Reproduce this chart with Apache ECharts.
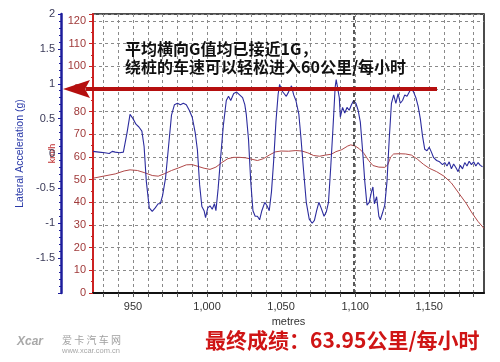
<!DOCTYPE html>
<html>
<head>
<meta charset="utf-8">
<script src="https://cdn.jsdelivr.net/npm/echarts@6/dist/echarts.min.js"></script>
<style>html,body{margin:0;padding:0;background:#fff;}#c{width:500px;height:362px;}</style>
</head>
<body>
<div id="c"></div>
<script>
// Lateral acceleration (g) vs distance (metres)
const accDist = [923,927,931,934,936,938,941,943.5,946,948,950,952,954,956,957.5,959,961,963,965,967,968.5,970,972,974,976,978,980,982,984,986,988,990,992,993.5,995,996.5,998,999,1000.5,1002,1003.5,1005,1006,1007.5,1009,1011,1013,1014.5,1016,1018,1020,1022,1024,1025.5,1026.5,1028,1029.5,1031,1032.5,1034,1035.5,1037,1039,1040.5,1042,1043.5,1045,1046.5,1048,1049,1050.5,1052,1053.5,1055,1057,1058.5,1060,1062,1063.5,1065,1067,1069,1071,1072.5,1074,1075.5,1077,1079,1080.5,1082,1083.5,1085,1086.5,1087.2,1088.5,1089.3,1090,1091.5,1093,1094.5,1096,1097.5,1099,1100.5,1102,1103.5,1105,1106.5,1108,1109.5,1111,1112,1113,1114.5,1116,1117,1118.5,1120,1121.5,1123,1124.5,1126,1127.5,1129,1130.5,1132,1133.5,1135,1137,1138,1139.5,1141,1142.5,1144,1145.5,1147,1148.5,1150,1151.5,1153,1155,1157,1159,1160.5,1162,1163.5,1165,1166.5,1168,1169.5,1171,1172.5,1174,1175.5,1177,1178.5,1180,1181.5,1183,1184.5,1186];
const accG = [0.03,0.02,0.01,0.00,0.03,0.02,0.01,0.02,0.30,0.56,0.50,0.42,0.38,0.32,0.10,-0.40,-0.78,-0.83,-0.78,-0.72,-0.72,-0.60,-0.35,0.10,0.55,0.70,0.72,0.70,0.72,0.70,0.62,0.52,0.30,0.05,-0.45,-0.76,-0.82,-0.92,-0.78,-0.75,-0.80,-0.72,-0.82,-0.50,-0.10,0.40,0.76,0.82,0.76,0.86,0.88,0.84,0.80,0.70,0.56,0.20,-0.40,-0.82,-0.90,-0.90,-0.95,-0.82,-0.70,-0.75,-0.82,-0.55,-0.10,0.45,0.85,0.99,0.90,0.86,0.82,0.88,0.97,0.84,0.76,0.56,0.20,-0.20,-0.70,-0.94,-1.00,-0.96,-0.82,-0.70,-0.78,-0.90,-0.84,-0.70,-0.20,0.35,0.95,1.06,1.06,0.80,0.52,0.66,0.58,0.66,0.62,0.70,0.76,0.72,0.62,0.45,0.05,-0.40,-0.74,-0.70,-0.55,-0.48,-0.72,-0.62,-0.90,-0.95,-0.85,-0.74,-0.40,0.20,0.72,0.84,0.72,0.86,0.72,0.76,0.84,0.82,0.90,0.94,0.88,0.80,0.68,0.50,0.25,0.06,0.04,0.09,0.02,-0.06,-0.10,-0.12,-0.16,-0.13,-0.18,-0.12,-0.22,-0.15,-0.20,-0.26,-0.17,-0.22,-0.13,-0.18,-0.11,-0.16,-0.12,-0.18,-0.13,-0.17,-0.19];

// Speed (km/h) vs distance (metres)
const speedDist = [923,930,938,944,948,953,958,963,967,971,976,981,986,990,994,998,1002,1006,1010,1014,1018,1022,1026,1030,1034,1038,1042,1046,1050,1055,1060,1064,1068,1072,1076,1080,1084,1087,1091,1095,1097,1100,1103,1106,1109,1112,1116,1120,1122,1124,1126,1130,1134,1138,1142,1146,1150,1155,1160,1165,1170,1175,1179,1183,1187];
const speedKmh = [50.6,51.5,52.5,53.8,54.3,54.0,53.0,51.8,51.5,52.5,54.0,55.2,56.5,56.6,55.8,55.0,54.5,55.5,57.5,59.2,59.8,59.8,59.6,59.0,58.4,59.2,60.8,62.2,62.6,62.5,62.8,62.6,61.8,60.6,60.3,60.8,61.2,62.3,63.2,64.8,65.3,64.8,63.5,61.5,58.5,56.2,55.5,55.4,56.5,60.0,61.3,61.4,61.3,60.8,59.0,56.8,55.0,53.5,51.5,48.5,44.0,39.5,35.2,31.5,28.5];

// Axis tick values
const xLabelValues = [950,1000,1050,1100,1150];
const xMinorTickValues = [930,940,950,960,970,980,990,1000,1010,1020,1030,1040,1050,1060,1070,1080,1090,1100,1110,1120,1130,1140,1150,1160,1170,1180];
const markerDist = 1099;

const accData = accDist.map((d, i) => [d, accG[i]]);
const speedData = speedDist.map((d, i) => [d, speedKmh[i]]);

const chart = echarts.init(document.getElementById('c'), null, {renderer: 'canvas'});
const latin = 'Liberation Sans, Arial, sans-serif';
const cjk = 'Noto Sans CJK SC, sans-serif';

chart.setOption({
  backgroundColor: '#fff',
  animation: false,
  grid: {left: 93, right: 16, top: 14, bottom: 69, show: true, borderColor: '#111', borderWidth: 1.5, backgroundColor: 'transparent'},
  xAxis: {
    type: 'value', min: 923, max: 1187,
    name: 'metres', nameLocation: 'middle', nameGap: 23,
    nameTextStyle: {color: '#333', fontSize: 11, fontFamily: latin},
    axisLine: {show: true, onZero: false, lineStyle: {color: '#111', width: 2}},
    axisTick: {show: true, customValues: xMinorTickValues, length: 4, lineStyle: {color: '#555'}},
    axisLabel: {customValues: xLabelValues, color: '#333', fontSize: 11, fontFamily: latin, margin: 8,
      formatter: v => v >= 1000 ? Math.floor(v/1000) + ',' + String(v % 1000).padStart(3, '0') : String(v)},
    splitLine: {show: true, customValues: xLabelValues, lineStyle: {color: '#8a8a8a', type: [3, 3], width: 1}}
  },
  yAxis: [
    {
      type: 'value', min: -2, max: 2, interval: 0.5, position: 'left', offset: 32,
      name: 'Lateral Acceleration (g)', nameLocation: 'middle', nameGap: 30,
      nameTextStyle: {color: '#2a3aa8', fontSize: 10.5, fontFamily: latin},
      axisLine: {show: true, lineStyle: {color: '#1c1c9c', width: 2.5}},
      axisTick: {show: true, length: 3, lineStyle: {color: '#1c1c9c'}},
      minorTick: {show: true, splitNumber: 5, length: 2, lineStyle: {color: '#1c1c9c'}},
      axisLabel: {color: '#3a3a58', fontSize: 11, fontFamily: latin, margin: 6, showMinLabel: false},
      splitLine: {show: false}
    },
    {
      type: 'value', min: 0, max: 123, interval: 10, position: 'left', offset: 0,
      name: 'km/h', nameLocation: 'middle', nameGap: 31,
      nameTextStyle: {color: '#c03030', fontSize: 9, fontFamily: latin},
      axisLine: {show: true, lineStyle: {color: '#cc2222', width: 2}},
      axisTick: {show: true, length: 4, lineStyle: {color: '#cc2222'}},
      minorTick: {show: true, splitNumber: 2, length: 2, lineStyle: {color: '#cc2222'}},
      axisLabel: {color: '#a03a3a', fontSize: 11, fontFamily: latin, margin: 7, showMaxLabel: false},
      splitLine: {show: true, lineStyle: {color: '#8a8a8a', type: [3, 3], width: 1}}
    }
  ],
  series: [
    {
      type: 'line', name: 'Lateral Acceleration', xAxisIndex: 0, yAxisIndex: 0,
      data: accData, showSymbol: false, symbol: 'none', z: 3,
      lineStyle: {color: '#2c2c9e', width: 1.1},
      markLine: {
        silent: true, symbol: 'none', label: {show: false},
        lineStyle: {color: '#222', type: [4, 3], width: 1.5},
        data: [{xAxis: markerDist}]
      }
    },
    {
      type: 'line', name: 'Speed', xAxisIndex: 0, yAxisIndex: 1,
      data: speedData, showSymbol: false, symbol: 'none', z: 2,
      lineStyle: {color: '#b04848', width: 1}
    }
  ],
  graphic: [
    {type: 'line', shape: {x1: 86, y1: 89, x2: 437, y2: 89}, style: {stroke: '#b50f0f', lineWidth: 4}, z: 10},
    {type: 'polygon', shape: {points: [[63, 89], [90, 80], [85, 89], [90, 98]]}, style: {fill: '#b50f0f'}, z: 10},
    {type: 'text', left: 125, top: 41, style: {text: '平均横向G值均已接近1G，', fill: '#111', font: 'bold 16px ' + cjk}, z: 10},
    {type: 'text', left: 125, top: 59, style: {text: '绕桩的车速可以轻松进入60公里/每小时', fill: '#111', font: 'bold 16px ' + cjk}, z: 10},
    {type: 'text', left: 205, top: 330, style: {text: '最终成绩：63.95公里/每小时', fill: '#cf1515', font: 'bold 21px ' + cjk}, z: 10},
    {type: 'text', left: 17, top: 336, style: {text: 'Xcar', fill: '#a8a8a8', font: 'italic bold 12px ' + latin}, z: 10},
    {type: 'text', left: 62, top: 335, style: {text: '爱 卡 汽 车 网', fill: '#a0a0a0', font: '10px ' + cjk}, z: 10},
    {type: 'text', left: 62, top: 347, style: {text: 'www.xcar.com.cn', fill: '#a8a8a8', font: '7.5px ' + latin}, z: 10}
  ]
});
</script>
</body>
</html>
